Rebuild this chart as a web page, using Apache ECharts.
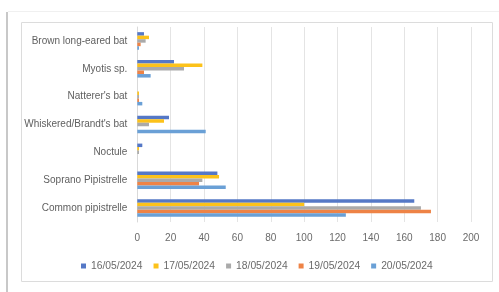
<!DOCTYPE html>
<html><head><meta charset="utf-8">
<script src="https://cdn.jsdelivr.net/npm/echarts@6/dist/echarts.min.js"></script>
<style>html,body{margin:0;padding:0;background:#fff}#c{width:499px;height:292px}</style>
</head><body><div id="c"></div>
<script>
const categories = ["Brown long-eared bat","Myotis sp.","Natterer's bat","Whiskered/Brandt's bat","Noctule","Soprano Pipistrelle","Common pipistrelle"];
const seriesNames = ["16/05/2024","17/05/2024","18/05/2024","19/05/2024","20/05/2024"];
const d16 = [4, 22, 0, 19, 3, 48, 166];
const d17 = [7, 39, 1, 16, 1, 49, 100];
const d18 = [5, 28, 1, 7, 1, 39, 170];
const d19 = [2, 4, 1, 0, 0, 37, 176];
const d20 = [1, 8, 3, 41, 0, 53, 125];
const xTicks = [0, 20, 40, 60, 80, 100, 120, 140, 160, 180, 200];
const colors = ["#5578c6","#fcc21a","#aaaaaa","#ee8346","#6aa0d6"];
const allData = [d16, d17, d18, d19, d20];

const chart = echarts.init(document.getElementById('c'), null, {renderer:'canvas'});
const font = 'Liberation Sans, Arial, sans-serif';
chart.setOption({
  animation: false,
  color: colors,
  graphic: [
    {type:'rect', shape:{x:21.5,y:22.5,width:471,height:259}, style:{fill:'none', stroke:'#dcdcdc', lineWidth:1}, z:-1},
    {type:'rect', shape:{x:6,y:12,width:2,height:280}, style:{fill:'#c8c8c8'}, z:-1},
    {type:'line', shape:{x1:8,y1:11.5,x2:499,y2:11.5}, style:{stroke:'#f0f0f0', lineWidth:1}, z:-1}
  ],
  grid: {left:137.3, right:28, top:27, bottom:70, containLabel:false},
  legend: {
    data: seriesNames, top: 256, left: 76, itemWidth:5, itemHeight:5, itemGap:11, icon:'rect',
    textStyle: {fontFamily: font, fontSize: 10.3, color:'#6a6a6a'}
  },
  xAxis: {
    type:'value', min:0, max:200, interval:20,
    axisLine:{show:false}, axisTick:{show:false},
    splitLine:{lineStyle:{color:'#e4e4e4'}},
    axisLabel:{fontFamily:font, fontSize:10, color:'#6a6a6a', margin:11,
      formatter: v => xTicks.includes(v) ? String(v) : ''}
  },
  yAxis: {
    type:'category', data: categories, inverse:true,
    axisLine:{show:true, lineStyle:{color:'#d9d9d9'}}, axisTick:{show:false},
    axisLabel:{fontFamily:font, fontSize:10, color:'#606060', margin:10}
  },
  series: seriesNames.map((n,i)=>({
    name:n, type:'bar', data: allData[i], barGap:'0%', barCategoryGap:'37%'
  }))
});
</script></body></html>
